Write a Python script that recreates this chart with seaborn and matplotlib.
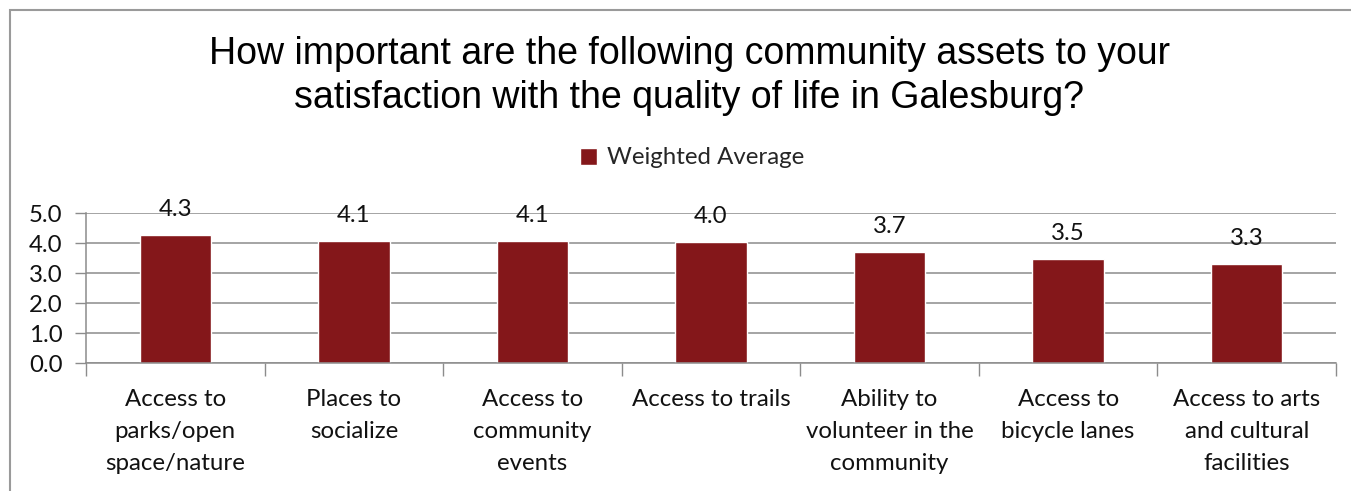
import matplotlib
matplotlib.use("Agg")
import matplotlib.pyplot as plt
import matplotlib.patches as mpatches
from matplotlib.ticker import FixedLocator
import seaborn as sns
import pandas as pd

# Survey results: weighted average importance (1-5 scale)
assets = [
    "Access to\nparks/open\nspace/nature",
    "Places to\nsocialize",
    "Access to\ncommunity\nevents",
    "Access to trails",
    "Ability to\nvolunteer in the\ncommunity",
    "Access to\nbicycle lanes",
    "Access to arts\nand cultural\nfacilities",
]
weighted_average = [4.26, 4.07, 4.06, 4.04, 3.71, 3.46, 3.31]
series_name = "Weighted Average"
y_ticks = [0, 1, 2, 3, 4, 5]

title = ("How important are the following community assets to your\n"
         "satisfaction with the quality of life in Galesburg?")

BAR = "#84171A"
GRID = "#8C8C8C"
TEXT = "#111111"
BODY_FONT = "Lato"
BODY_SIZE = 17.3

df = pd.DataFrame({"asset": assets, "value": weighted_average,
                   "series": [series_name] * len(assets)})

sns.set_theme(style="white")
plt.rcParams["font.family"] = [BODY_FONT, "DejaVu Sans"]

W, H = 1351, 491
AX_H = 363.3 - 213.3
fig = plt.figure(figsize=(W / 100, H / 100), dpi=100)
ax = fig.add_axes([86 / W, 1 - 363.3 / H, (1336 - 86) / W, AX_H / H])

sns.barplot(data=df, x="asset", y="value", hue="series", palette=[BAR],
            width=0.4, dodge=False, ax=ax, legend=True, saturation=1)

ax.set_xlim(-0.5, len(assets) - 0.5)
ax.set_ylim(0, 5)
ax.set_xlabel("")
ax.set_ylabel("")

# y axis: gridlines and one-decimal labels
ax.set_yticks(y_ticks)
ax.set_yticklabels([f"{v:.1f}" for v in y_ticks], fontsize=BODY_SIZE, color=TEXT)
ax.grid(axis="y", color=GRID, linewidth=1.1)
ax.set_axisbelow(True)
ax.tick_params(axis="y", which="major", length=8, width=1, color=GRID,
               direction="out", pad=9, left=True)

# x axis: tick marks at category boundaries, category names centred below
ax.xaxis.set_major_locator(FixedLocator([i - 0.5 for i in range(len(assets) + 1)]))
ax.set_xticklabels([])
ax.tick_params(axis="x", which="major", length=9, width=1, color=GRID,
               direction="out", bottom=True)
for i, name in enumerate(assets):
    ax.text(i, -26 / AX_H, name, transform=ax.get_xaxis_transform(),
            ha="center", va="top", fontsize=BODY_SIZE, color=TEXT,
            linespacing=1.63)

for side in ["top", "right"]:
    ax.spines[side].set_visible(False)
for side in ["left", "bottom"]:
    ax.spines[side].set_color(GRID)
    ax.spines[side].set_linewidth(1.1)

# value labels above each bar
for i, v in enumerate(weighted_average):
    ax.annotate(f"{v:.1f}", xy=(i, v), xytext=(0, 18.5), textcoords="offset points",
                ha="center", va="center", fontsize=BODY_SIZE, color=TEXT)

# legend centred above the plot
leg = ax.get_legend()
handles = leg.legend_handles
leg.remove()
fig.legend(handles, [series_name], loc="center", bbox_to_anchor=(692 / W, 1 - 158 / H),
           frameon=False, fontsize=BODY_SIZE, handlelength=0.7, handleheight=0.7,
           handletextpad=0.4, borderpad=0)

fig.text(689 / W, 1 - 76 / H, title, ha="center", va="center", fontsize=27,
         family=["Liberation Sans", "DejaVu Sans"], color="black", linespacing=1.28)

# chart frame
fig.patches.append(mpatches.Rectangle((9.5 / W, -0.2), 1.5, 1.2 - 9.5 / H,
                                      transform=fig.transFigure, fill=False,
                                      edgecolor="#9A9A9A", linewidth=1.5))

fig.savefig("out.png", dpi=100, facecolor="white")
